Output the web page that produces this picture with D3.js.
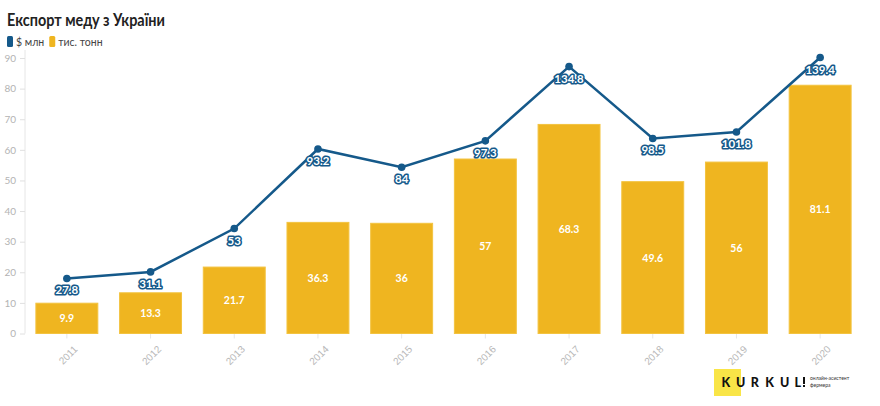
<!DOCTYPE html>
<html><head><meta charset="utf-8">
<script src="https://cdn.jsdelivr.net/npm/d3@7"></script>
<style>
body{margin:0;background:#fff;}
svg{display:block;font-family:"Lato","Noto Sans",sans-serif;}
</style></head>
<body><svg id="c" width="880" height="406"></svg>
<script>
const years = ["2011","2012","2013","2014","2015","2016","2017","2018","2019","2020"];
const usdMln = [27.8,31.1,53,93.2,84,97.3,134.8,98.5,101.8,139.4];
const tonnes = [9.9,13.3,21.7,36.3,36,57,68.3,49.6,56,81.1];
const yTicks = [0,10,20,30,40,50,60,70,80,90];
const seriesNames = ["$ млн","тис. тонн"];

const blue = "#15598a", yellow = "#efb520";
const svg = d3.select("#c");

const x = d3.scaleBand().domain(years).range([25, 862]).paddingInner(0.26).paddingOuter(0.13);
const y = d3.scaleLinear().domain([0, 90]).range([333.5, 58]);
const y2 = d3.scaleLinear().domain([0, d3.max(usdMln)]).range([y(0), y(90) - 0.5]);

// title
svg.append("text").attr("x", 7).attr("y", 26).attr("font-size", 16.5).attr("font-weight", 700)
  .attr("fill", "#222").attr("textLength", 158).attr("lengthAdjust", "spacingAndGlyphs")
  .text("Експорт меду з України");

// legend
const lg = svg.append("g");
let lx = 7;
seriesNames.forEach((n, i) => {
  lg.append("rect").attr("x", lx).attr("y", 36).attr("width", 6).attr("height", 11).attr("rx", 1.5)
    .attr("fill", i === 0 ? blue : yellow);
  const t = lg.append("text").attr("x", lx + 9).attr("y", 45.5).attr("font-size", 10.5).attr("fill", "#444").text(n);
  lx += 9 + t.node().getComputedTextLength() + 5;
});

// y axis
const ya = svg.append("g").attr("transform", "translate(25,0)")
  .call(d3.axisLeft(y).tickValues(yTicks).tickSize(5).tickPadding(4));
ya.select(".domain").attr("stroke", "#e6e6e6").attr("d", `M0,${y(0)}V${y(90)-8}`);
ya.selectAll(".tick line").attr("stroke", "#e0e0e0");
ya.selectAll(".tick text").attr("fill", "#b3b3b3").attr("font-size", 10).attr("font-family", "Lato, sans-serif");

// x axis
const xa = svg.append("g").attr("transform", `translate(0,${y(0)})`)
  .call(d3.axisBottom(x).tickSize(5).tickPadding(4));
xa.select(".domain").remove();
xa.selectAll(".tick line").attr("stroke", "#e6e6e6");
xa.selectAll(".tick text").attr("fill", "#b8b8b8").attr("font-size", 10)
  .attr("text-anchor", "end").attr("dy", 0)
  .attr("transform", "translate(5,10) rotate(-45)");

// bars
svg.append("g").selectAll("rect").data(tonnes).join("rect")
  .attr("x", (d, i) => x(years[i])).attr("width", x.bandwidth())
  .attr("y", d => y(d)).attr("height", d => y(0) - y(d))
  .attr("fill", yellow).attr("stroke", "#f3c340").attr("stroke-width", 1);

svg.append("g").selectAll("text").data(tonnes).join("text")
  .attr("x", (d, i) => x(years[i]) + x.bandwidth() / 2)
  .attr("y", d => (y(d) + y(0)) / 2 + 4)
  .attr("text-anchor", "middle").attr("font-size", 10.5).attr("font-weight", 700)
  .attr("fill", "#fff").attr("stroke", yellow).attr("stroke-width", 2).attr("paint-order", "stroke")
  .text(d => d);

// line
const cx = i => x(years[i]) + x.bandwidth() / 2;
svg.append("path").datum(usdMln)
  .attr("d", d3.line().x((d, i) => cx(i)).y(d => y2(d)))
  .attr("fill", "none").attr("stroke", blue).attr("stroke-width", 2.5);
svg.append("g").selectAll("circle").data(usdMln).join("circle")
  .attr("cx", (d, i) => cx(i)).attr("cy", d => y2(d)).attr("r", 3.8).attr("fill", blue);
svg.append("g").selectAll("text").data(usdMln).join("text")
  .attr("x", (d, i) => cx(i)).attr("y", d => y2(d) + 16)
  .attr("text-anchor", "middle").attr("font-size", 11.5).attr("font-weight", 700)
  .attr("fill", "#fff").attr("stroke", blue).attr("stroke-width", 3.2).attr("stroke-linejoin", "round")
  .attr("paint-order", "stroke")
  .text(d => d);

// logo
const logo = svg.append("g");
logo.append("rect").attr("x", 714).attr("y", 369).attr("width", 27).attr("height", 27).attr("fill", "#f9e547");
const letters = "KURKUL".split("");
logo.selectAll("text.l").data(letters).join("text").attr("class", "l")
  .attr("x", (d, i) => 721.5 + i * 14.6).attr("y", 387).attr("font-size", 12.5).attr("font-weight", 900)
  .attr("font-family", "Lato, sans-serif").attr("fill", "#111").text(d => d);
logo.append("rect").attr("x", 803).attr("y", 377).attr("width", 2).attr("height", 7).attr("fill", "#111");
logo.append("rect").attr("x", 803).attr("y", 385).attr("width", 2).attr("height", 2).attr("fill", "#111");
logo.append("text").attr("x", 810).attr("y", 380).attr("font-size", 5).attr("fill", "#333").text("онлайн-асистент");
logo.append("text").attr("x", 810).attr("y", 386.5).attr("font-size", 5).attr("fill", "#333").text("фермера");
</script></body></html>
